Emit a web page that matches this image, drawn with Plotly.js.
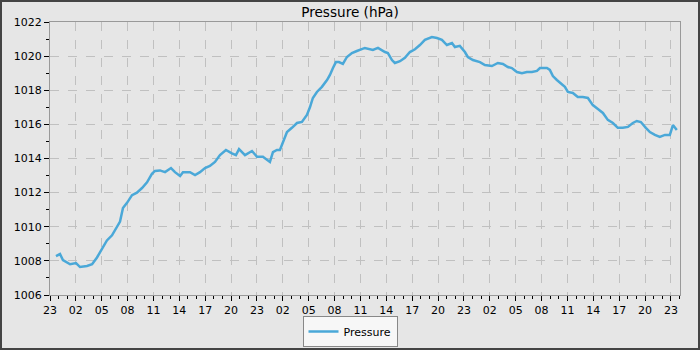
<!DOCTYPE html>
<html>
<head>
<meta charset="utf-8">
<script src="https://cdn.plot.ly/plotly-3.0.1.min.js"></script>
<style>
  html, body { margin: 0; padding: 0; background: #e6e6e6; }
  #chart { width: 696px; height: 346px; border: 2px solid #444444; }
</style>
</head>
<body>
<div id="chart"></div>
<script>
// hours since 23:00 of the first day (three days shown)
const hours = [0.69,1.16,1.50,2.33,3.02,3.48,4.29,4.88,5.45,6.03,6.60,7.19,7.53,8.12,8.46,8.93,9.51,10.08,10.67,11.25,11.82,12.17,12.75,13.34,14.03,14.49,15.08,15.42,16.23,16.82,17.39,17.97,18.54,19.13,19.71,20.40,21.09,21.56,21.92,22.61,23.42,24.00,24.69,25.50,25.85,26.31,26.66,27.02,27.48,28.05,28.64,29.21,29.79,30.14,30.48,30.95,31.53,32.12,32.46,32.81,33.15,33.50,33.96,34.43,35.01,35.58,36.51,37.44,38.03,38.84,39.18,39.65,39.99,40.58,41.15,41.73,42.32,42.89,43.47,44.28,44.87,45.44,46.02,46.61,46.95,47.52,48.11,48.45,49.04,49.85,50.43,51.24,51.93,52.52,53.09,53.55,54.14,54.72,55.29,55.88,56.46,56.81,57.62,57.96,58.31,58.77,59.36,59.70,60.05,60.63,61.20,61.79,62.37,62.94,63.53,64.11,64.68,65.27,65.84,66.42,67.01,67.58,68.04,68.51,69.09,69.56,70.14,70.71,71.30,71.87,72.23,72.68];
const pressure = [1008.28,1008.4,1008.05,1007.8,1007.87,1007.64,1007.7,1007.8,1008.2,1008.75,1009.2,1009.5,1009.8,1010.3,1011.1,1011.4,1011.85,1012.0,1012.27,1012.6,1013.1,1013.27,1013.3,1013.2,1013.44,1013.2,1012.97,1013.2,1013.2,1013.03,1013.2,1013.44,1013.56,1013.8,1014.2,1014.5,1014.3,1014.2,1014.55,1014.2,1014.44,1014.1,1014.1,1013.8,1014.38,1014.5,1014.5,1014.97,1015.55,1015.8,1016.08,1016.14,1016.55,1017.0,1017.55,1017.9,1018.2,1018.6,1018.9,1019.3,1019.65,1019.65,1019.54,1019.95,1020.18,1020.3,1020.48,1020.36,1020.48,1020.24,1020.18,1019.77,1019.6,1019.7,1019.9,1020.24,1020.4,1020.65,1020.95,1021.12,1021.06,1020.95,1020.65,1020.77,1020.53,1020.6,1020.24,1019.95,1019.77,1019.65,1019.48,1019.42,1019.6,1019.54,1019.36,1019.3,1019.07,1019.0,1019.07,1019.07,1019.13,1019.3,1019.3,1019.19,1018.83,1018.6,1018.37,1018.2,1017.9,1017.84,1017.6,1017.6,1017.55,1017.13,1016.9,1016.67,1016.26,1016.08,1015.8,1015.8,1015.85,1016.08,1016.2,1016.14,1015.8,1015.55,1015.38,1015.26,1015.38,1015.38,1015.96,1015.67];
const tickHours = [0,3,6,9,12,15,18,21,24,27,30,33,36,39,42,45,48,51,54,57,60,63,66,69,72];
const tickLabels = ['23','02','05','08','11','14','17','20','23','02','05','08','11','14','17','20','23','02','05','08','11','14','17','20','23'];
const yTicks = [1006,1008,1010,1012,1014,1016,1018,1020,1022];

const trace = {
  x: hours, y: pressure, type: 'scatter', mode: 'lines', name: 'Pressure',
  line: { color: '#4aa8d8', width: 2.5 }
};

const gridStyle = { gridcolor: '#c0c0c0', griddash: 'dash', gridwidth: 1 };

const layout = {
  width: 696, height: 346,
  margin: { l: 48, r: 18, t: 20, b: 53 },
  paper_bgcolor: '#e6e6e6', plot_bgcolor: '#e6e6e6',
  font: { family: 'DejaVu Sans', size: 11, color: '#000' },
  title: { text: 'Pressure (hPa)', x: 0.5, xref: 'container', y: 0.985, yref: 'container', yanchor: 'top', font: { size: 13.6, family: 'DejaVu Sans', color: '#000' } },
  showlegend: true,
  legend: { orientation: 'h', x: 0.5, xref: 'container', xanchor: 'center', y: 0.003, yref: 'container', yanchor: 'bottom',
            bgcolor: '#f7f7f7', bordercolor: '#888', borderwidth: 1, font: { size: 11 }, itemwidth: 30 },
  xaxis: Object.assign({
    range: [0, 73.05], tickmode: 'array', tickvals: tickHours, ticktext: tickLabels,
    ticks: 'outside', ticklen: 5, tickcolor: '#000', showline: true, linecolor: '#999', mirror: true,
    zeroline: false,
    minor: { dtick: 1, tick0: 0, ticks: 'outside', ticklen: 3, tickcolor: '#000', showgrid: false }
  }, gridStyle),
  yaxis: Object.assign({
    range: [1006, 1022], tickmode: 'array', tickvals: yTicks,
    ticks: 'outside', ticklen: 5, tickcolor: '#000', showline: true, linecolor: '#999', mirror: true,
    zeroline: false,
    minor: { dtick: 1, tick0: 1006, ticks: 'outside', ticklen: 3, tickcolor: '#000', showgrid: false }
  }, gridStyle)
};

Plotly.newPlot('chart', [trace], layout, { displayModeBar: false, staticPlot: true });
</script>
</body>
</html>
